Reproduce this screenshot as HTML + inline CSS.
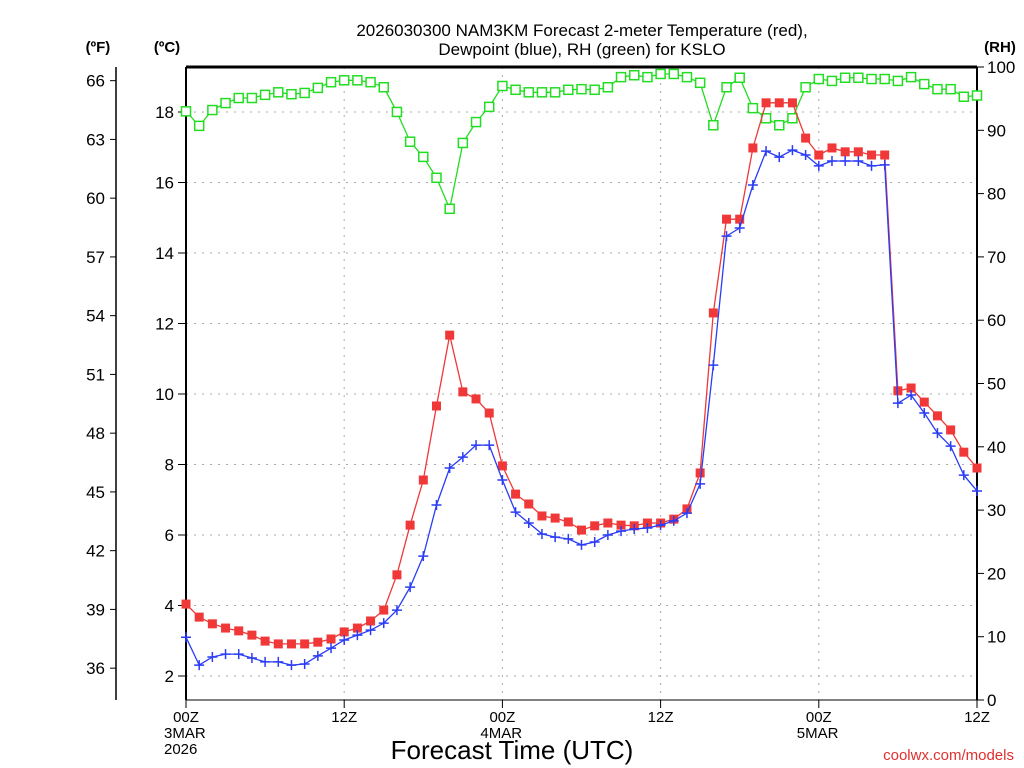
<!DOCTYPE html>
<html><head><meta charset="utf-8"><style>
body{margin:0;background:#fff;}
svg{display:block;font-family:"Liberation Sans",sans-serif;}
</style></head><body>
<svg id="c" width="1024" height="768" xmlns="http://www.w3.org/2000/svg">
<text x="582" y="36" font-size="17" text-anchor="middle">2026030300 NAM3KM Forecast 2-meter Temperature (red),</text>
<text x="582" y="55" font-size="17" text-anchor="middle">Dewpoint (blue), RH (green) for KSLO</text>
<text x="98" y="52" font-size="15" font-weight="bold" text-anchor="middle">(ºF)</text>
<text x="167" y="52" font-size="15" font-weight="bold" text-anchor="middle">(ºC)</text>
<text x="1000" y="52" font-size="15" font-weight="bold" text-anchor="middle">(RH)</text>
<text x="512" y="759" font-size="26" text-anchor="middle">Forecast Time (UTC)</text>
<text x="1014" y="760" font-size="15" fill="#e03030" text-anchor="end">coolwx.com/models</text>
<g id="g"></g>
</svg>
<script>
const hours=[];for(let i=0;i<=60;i++)hours.push(i);
const temp=[4.04,3.67,3.48,3.36,3.28,3.16,2.99,2.91,2.91,2.91,2.96,3.05,3.25,3.36,3.56,3.87,4.87,6.28,7.56,9.66,11.67,10.06,9.86,9.46,7.96,7.16,6.88,6.54,6.48,6.37,6.14,6.26,6.34,6.28,6.26,6.34,6.34,6.45,6.74,7.76,12.3,14.96,14.96,16.98,18.26,18.26,18.26,17.26,16.78,16.98,16.87,16.87,16.78,16.78,10.09,10.17,9.77,9.38,8.98,8.35,7.9];
const dew=[3.1,2.31,2.54,2.62,2.62,2.51,2.4,2.4,2.31,2.34,2.57,2.79,3.02,3.16,3.3,3.5,3.87,4.52,5.4,6.85,7.9,8.21,8.55,8.55,7.56,6.65,6.34,6.03,5.94,5.89,5.72,5.8,6.0,6.11,6.17,6.2,6.28,6.4,6.62,7.45,10.82,14.48,14.71,15.93,16.89,16.72,16.92,16.78,16.47,16.61,16.61,16.61,16.47,16.5,9.74,9.97,9.46,8.89,8.52,7.7,7.25];
const rh=[93.0,90.7,93.2,94.3,95.1,95.1,95.6,96.0,95.7,95.9,96.7,97.6,97.9,97.9,97.6,96.8,92.9,88.2,85.8,82.5,77.6,88.0,91.3,93.7,97.0,96.4,96.0,96.0,96.0,96.4,96.5,96.4,96.8,98.4,98.7,98.4,98.9,98.9,98.4,97.5,90.8,96.8,98.3,93.5,91.9,90.8,91.9,96.8,98.1,97.8,98.3,98.3,98.1,98.1,97.8,98.4,97.3,96.5,96.5,95.3,95.5];
const cTicks=[2,4,6,8,10,12,14,16,18];
const fTicks=[36,39,42,45,48,51,54,57,60,63,66];
const rhTicks=[0,10,20,30,40,50,60,70,80,90,100];
const xTicks=[0,12,24,36,48,60];
const xLabels=["00Z","12Z","00Z","12Z","00Z","12Z"];
const dateLabels=[[0,"3MAR"],[24,"4MAR"],[48,"5MAR"]];

const L=186,R=977,T=67,B=700;
const X=h=>L+(R-L)*h/60;
const YC=c=>676-(c-2)*35.25;
const YF=f=>YC((f-32)*5/9);
const YR=r=>B-(B-T)*r/100;
const NS="http://www.w3.org/2000/svg";
const g=document.getElementById('g');
function mk(t,a,parent){const e=document.createElementNS(NS,t);for(const k in a)e.setAttribute(k,a[k]);(parent||g).appendChild(e);return e;}

// grid
cTicks.forEach(c=>{const e=mk('line',{x1:L,x2:R,y1:YC(c),y2:YC(c),stroke:'#aaa','stroke-dasharray':'2,6'});

});
xTicks.slice(1,-1).forEach(h=>{const e=mk('line',{x1:X(h),x2:X(h),y1:T,y2:B,stroke:'#aaa','stroke-dasharray':'2,6'});

});
// axes
[[L,T,R,T,3],[L,T,L,B,2],[R,T,R,B,2],[L,B,R,B,1],[116,67,116,700,1.5]].forEach(a=>{const e=mk('line',{x1:a[0],y1:a[1],x2:a[2],y2:a[3],stroke:'#000','stroke-width':a[4]});

});
cTicks.forEach(c=>{mk('line',{x1:L-8,x2:L,y1:YC(c),y2:YC(c),stroke:'#000'});
const t=mk('text',{x:L-12,y:YC(c)+6,'font-size':17,'text-anchor':'end'});t.textContent=c;

});
fTicks.forEach(f=>{mk('line',{x1:110,x2:116,y1:YF(f),y2:YF(f),stroke:'#000'});
const t=mk('text',{x:105,y:YF(f)+6,'font-size':17,'text-anchor':'end'});t.textContent=f;

});
rhTicks.forEach(r=>{mk('line',{x1:R,x2:R+7,y1:YR(r),y2:YR(r),stroke:'#000'});
const t=mk('text',{x:R+10,y:YR(r)+6,'font-size':17});t.textContent=r;

});
xTicks.forEach((h,i)=>{mk('line',{x1:X(h),x2:X(h),y1:B,y2:B+8,stroke:'#000'});
const t=mk('text',{x:X(h),y:B+22,'font-size':15,'text-anchor':'middle'});t.textContent=xLabels[i];

});
dateLabels.forEach(d=>{const t=mk('text',{x:X(d[0])-22,y:B+38,'font-size':15});t.textContent=d[1];

});
{const t=mk('text',{x:X(0)-22,y:B+54,'font-size':15});t.textContent='2026';

}

function series(vals,yf,color,marker,name){
  const pts=vals.map((v,i)=>X(hours[i]).toFixed(1)+','+yf(v).toFixed(1)).join(' ');
  const pl=mk('polyline',{points:pts,fill:'none',stroke:color,'stroke-width':1.3});
  
  
  vals.forEach((v,i)=>{const x=X(hours[i]),y=yf(v);let e;
    if(marker==='fill'){e=mk('rect',{x:x-4.5,y:y-4.5,width:9,height:9,fill:color});}
    else if(marker==='open'){e=mk('rect',{x:x-4.5,y:y-4.5,width:9,height:9,fill:'#fff',stroke:color,'stroke-width':1.5});}
    else{e=mk('path',{d:`M${x-5} ${y}H${x+5}M${x} ${y-5}V${y+5}`,stroke:color,'stroke-width':1.5});}
    
    });
}
series(rh,YR,'#22dd22','open','rh');
series(temp,YC,'#f03838','fill','temperature');
series(dew,YC,'#2a3cf5','plus','dewpoint');
</script>
</body></html>
